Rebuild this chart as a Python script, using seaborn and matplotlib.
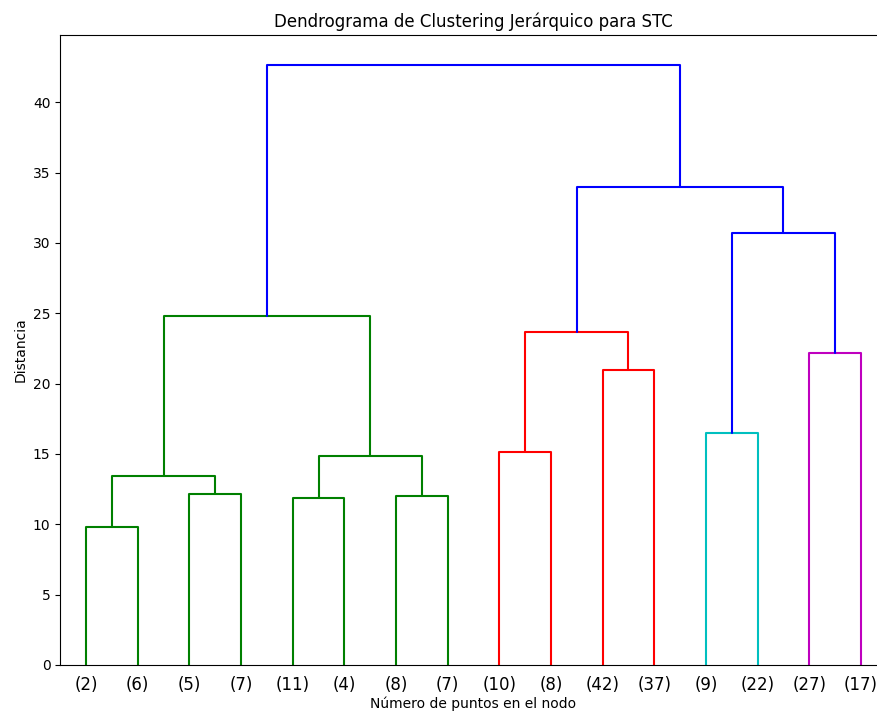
import numpy as np
import pandas as pd
import matplotlib
matplotlib.use("Agg")
import matplotlib.pyplot as plt
import seaborn as sns

# Leaf labels (cluster sizes) in dendrogram order
leaf_labels = ["(2)", "(6)", "(5)", "(7)", "(11)", "(4)", "(8)", "(7)",
               "(10)", "(8)", "(42)", "(37)", "(9)", "(22)", "(27)", "(17)"]

# Linkage: nodes 0..15 are leaves, merge k creates node 16+k
merge_left = [0, 2, 16, 4, 6, 19, 18, 8, 10, 23, 12, 14, 26, 25, 22]
merge_right = [1, 3, 17, 5, 7, 20, 21, 9, 11, 24, 13, 15, 27, 28, 29]
merge_height = [9.82, 12.12, 13.42, 11.88, 11.98, 14.84, 24.81,
                15.13, 20.94, 23.64, 16.50, 22.19, 30.70, 34.00, 42.65]
merge_color = ["g", "g", "g", "g", "g", "g", "g",
               "r", "r", "r", "c", "m", "b", "b", "b"]

n_leaves = len(leaf_labels)
node_x = {i: 5 + 10 * i for i in range(n_leaves)}
node_y = {i: 0.0 for i in range(n_leaves)}
rows = []
for k, (a, b, h, c) in enumerate(zip(merge_left, merge_right, merge_height, merge_color)):
    xs = [node_x[a], node_x[a], node_x[b], node_x[b]]
    ys = [node_y[a], h, h, node_y[b]]
    for order, (xx, yy) in enumerate(zip(xs, ys)):
        rows.append({"link": k, "order": order, "x": xx, "y": yy, "color": c})
    node_x[n_leaves + k] = (node_x[a] + node_x[b]) / 2
    node_y[n_leaves + k] = h
df = pd.DataFrame(rows)

color_map = {"g": "#008000", "r": "#ff0000", "c": "#00bfbf", "m": "#bf00bf", "b": "#0000ff"}

sns.set_style("white")
plt.rcParams["font.family"] = ["DejaVu Sans"]
plt.rcParams["axes.edgecolor"] = "black"
plt.rcParams["text.color"] = "black"
plt.rcParams["axes.labelcolor"] = "black"
plt.rcParams["xtick.color"] = "black"
plt.rcParams["ytick.color"] = "black"

fig = plt.figure(figsize=(8.78, 7.13), dpi=100)
ax = fig.add_axes([60.2 / 878, (713 - 665) / 713, (886.8 - 60.2) / 878, (665 - 35) / 713])

sns.lineplot(data=df, x="x", y="y", units="link", estimator=None, sort=False,
             hue="color", palette=color_map, legend=False, linewidth=1.5, ax=ax)

ax.set_xlim(0, 10 * n_leaves)
ax.set_ylim(0, max(merge_height) * 1.05)
ax.set_xticks([5 + 10 * i for i in range(n_leaves)])
ax.set_xticklabels(leaf_labels, fontsize=12)
ax.tick_params(axis="x", length=0, pad=8)
ax.tick_params(axis="y", left=True, length=3.5, width=0.8, labelsize=10, direction="out")
ax.set_yticks([0, 5, 10, 15, 20, 25, 30, 35, 40])
for s in ax.spines.values():
    s.set_visible(True)
    s.set_linewidth(0.8)
    s.set_color("black")

ax.set_title("Dendrograma de Clustering Jerárquico para STC", fontsize=12)
ax.set_xlabel("Número de puntos en el nodo", fontsize=10, labelpad=2)
ax.set_ylabel("Distancia", fontsize=10)

fig.savefig("out.png", dpi=100)
